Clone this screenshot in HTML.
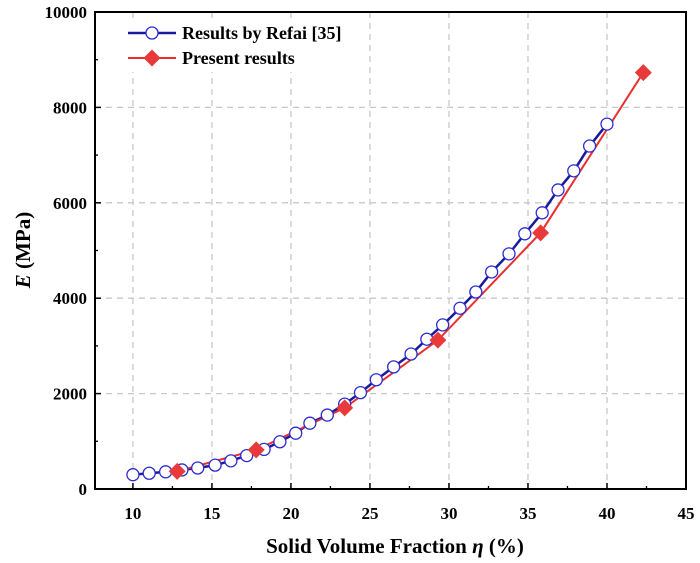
<!DOCTYPE html>
<html><head><meta charset="utf-8">
<style>
body{margin:0;background:#fff;}
svg{display:block;font-family:"Liberation Serif",serif;font-weight:bold;}
</style></head>
<body>
<svg id="chart" width="700" height="563">
<g id="grid"></g>
<g id="series"></g>
<g id="axes"></g>
<g id="legend">
<rect x="112" y="20" width="250" height="52" fill="#fff"/>
<line x1="128" y1="33" x2="176" y2="33" stroke="#1a1a9a" stroke-width="2.5"/>
<circle cx="152" cy="33" r="6" fill="#fff" stroke="#2b2bd0" stroke-width="1.3"/>
<text x="182" y="39" font-size="18">Results by Refai [35]</text>
<line x1="128" y1="58" x2="176" y2="58" stroke="#e83030" stroke-width="2"/>
<rect x="146" y="52" width="12" height="12" fill="#e83a3a" transform="rotate(45 152 58)"/>
<text x="182" y="64" font-size="18">Present results</text>
</g>
<text x="395" y="553" font-size="21" text-anchor="middle">Solid Volume Fraction <tspan font-style="italic">η</tspan> (%)</text>
<text transform="translate(30 250) rotate(-90)" font-size="21" text-anchor="middle"><tspan font-style="italic">E</tspan> (MPa)</text>
</svg>
<script>
const refaiX=[10,11.03,12.07,13.1,14.1,15.2,16.2,17.2,18.3,19.3,20.3,21.2,22.3,23.4,24.4,25.4,26.5,27.6,28.6,29.6,30.7,31.7,32.7,33.8,34.8,35.9,36.9,37.9,38.9,40];
const refaiY=[300,330,360,400,440,500,590,700,830,990,1170,1380,1550,1780,2020,2290,2560,2830,3140,3440,3790,4130,4550,4930,5350,5790,6270,6670,7190,7650];
const presentX=[12.8,17.8,23.4,29.3,35.8,42.3];
const presentY=[370,820,1700,3120,5370,8730];
const xTicks=[10,15,20,25,30,35,40,45];
const yTicks=[0,2000,4000,6000,8000,10000];
const X0=95,X1=686,Y0=489,Y1=12,XMIN=7.6,XMAX=45,YMIN=0,YMAX=10000;
function sx(v){return X0+(v-XMIN)/(XMAX-XMIN)*(X1-X0);}
function sy(v){return Y0-(v-YMIN)/(YMAX-YMIN)*(Y0-Y1);}
const NS="http://www.w3.org/2000/svg";
function mk(tag,attrs,parent){const e=document.createElementNS(NS,tag);for(const k in attrs)e.setAttribute(k,attrs[k]);parent.appendChild(e);return e;}
const grid=document.getElementById('grid'),axes=document.getElementById('axes'),series=document.getElementById('series');
xTicks.forEach(t=>{if(t<XMAX){const l=mk('line',{x1:sx(t),x2:sx(t),y1:Y1,y2:Y0,stroke:'#c8c8c8','stroke-width':1.3,'stroke-dasharray':'6 5'},grid);

}
const tk=mk('line',{x1:sx(t),x2:sx(t),y1:Y0,y2:Y0-6,stroke:'#000','stroke-width':1.5},axes);


const tx=mk('text',{x:sx(t),y:Y0+30,'font-size':17,'text-anchor':'middle'},axes);tx.textContent=t;


const m=t+2.5;if(m<XMAX)mk('line',{x1:sx(m),x2:sx(m),y1:Y0,y2:Y0-3,stroke:'#000','stroke-width':1.3},axes);});
yTicks.forEach(t=>{if(t>0&&t<YMAX){const l=mk('line',{x1:X0,x2:X1,y1:sy(t),y2:sy(t),stroke:'#c8c8c8','stroke-width':1.3,'stroke-dasharray':'6 5'},grid);

}
mk('line',{x1:X0,x2:X0+6,y1:sy(t),y2:sy(t),stroke:'#000','stroke-width':1.5},axes);
const tx=mk('text',{x:X0-8,y:sy(t)+6,'font-size':17,'text-anchor':'end'},axes);tx.textContent=t;


const m=t+1000;if(m<YMAX)mk('line',{x1:X0,x2:X0+3,y1:sy(m),y2:sy(m),stroke:'#000','stroke-width':1.3},axes);});
const frame=mk('rect',{x:X0,y:Y1,width:X1-X0,height:Y0-Y1,fill:'none',stroke:'#000','stroke-width':2},axes);


const bl=mk('polyline',{points:refaiX.map((x,i)=>sx(x)+','+sy(refaiY[i])).join(' '),fill:'none',stroke:'#1a1a9a','stroke-width':2.5},series);


const rl=mk('polyline',{points:presentX.map((x,i)=>sx(x)+','+sy(presentY[i])).join(' '),fill:'none',stroke:'#e83030','stroke-width':2},series);


refaiX.forEach((x,i)=>{const c=mk('circle',{cx:sx(x),cy:sy(refaiY[i]),r:6,fill:'#fff',stroke:'#2b2bd0','stroke-width':1.3},series);

});
presentX.forEach((x,i)=>{const cx=sx(x),cy=sy(presentY[i]);const r=mk('rect',{x:cx-6,y:cy-6,width:12,height:12,fill:'#e83a3a',transform:'rotate(45 '+cx+' '+cy+')'},series);

});
</script>
</body></html>
